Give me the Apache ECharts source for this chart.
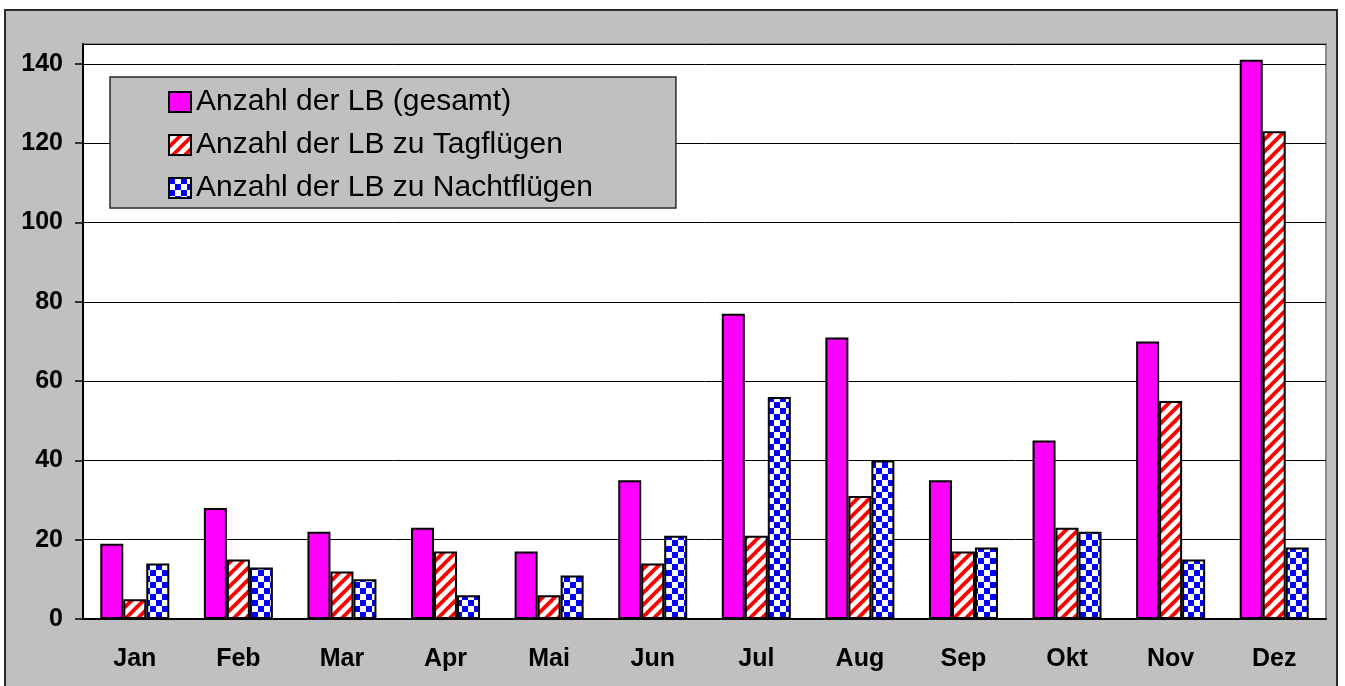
<!DOCTYPE html>
<html>
<head>
<meta charset="utf-8">
<script src="https://cdn.jsdelivr.net/npm/echarts@6/dist/echarts.min.js"></script>
<style>
html,body{margin:0;padding:0;background:#fff;}
#chart{width:1345px;height:686px;}
</style>
</head>
<body>
<div id="chart"></div>
<script>
const categories = ['Jan','Feb','Mar','Apr','Mai','Jun','Jul','Aug','Sep','Okt','Nov','Dez'];
const seriesNames = ['Anzahl der LB (gesamt)','Anzahl der LB zu Tagflügen','Anzahl der LB zu Nachtflügen'];
const gesamt = [19,28,22,23,17,35,77,71,35,45,70,141];
const tag = [5,15,12,17,6,14,21,31,17,23,55,123];
const nacht = [14,13,10,6,11,21,56,40,18,22,15,18];
const yMin = 0, yMax = 145, yStep = 20;

function stripePattern(){
  const s = 12;
  const c = document.createElement('canvas');
  c.width = s; c.height = s;
  const g = c.getContext('2d');
  g.fillStyle = '#ffffff'; g.fillRect(0,0,s,s);
  g.strokeStyle = '#ff0000'; g.lineWidth = 3.8;
  for (let k=-1;k<=1;k++){
    g.beginPath();
    g.moveTo(k*s - 2, s + 2);
    g.lineTo(k*s + s + 2, -2);
    g.stroke();
  }
  return c;
}
function checkerPattern(){
  const s = 12, h = 6;
  const c = document.createElement('canvas');
  c.width = s; c.height = s;
  const g = c.getContext('2d');
  g.fillStyle = '#ffffff'; g.fillRect(0,0,s,s);
  g.fillStyle = '#0000ff';
  g.fillRect(0,0,h,h); g.fillRect(h,h,h,h);
  return c;
}

const chart = echarts.init(document.getElementById('chart'), null, {renderer:'canvas'});
const font = '"Liberation Sans", Arial, sans-serif';
const barBase = {type:'bar', barWidth:23, barGap:'0%'};

chart.setOption({
  backgroundColor:'#ffffff',
  animation:false,
  graphic:[{
    type:'rect', z:-10, silent:true,
    shape:{x:5, y:10, width:1332, height:690},
    style:{fill:'#c0c0c0', stroke:'#2a2a2a', lineWidth:2}
  }],
  grid:{left:83, top:44, right:19, bottom:67, show:true, backgroundColor:'#ffffff', borderColor:'#8a8a8a', borderWidth:2},
  legend:{
    orient:'vertical', left:110, top:77,
    backgroundColor:'#c0c0c0', borderColor:'#2a2a2a', borderWidth:1.5,
    padding:[10,83,5,58],
    itemWidth:22, itemHeight:20, itemGap:13,
    icon:'rect',
    itemStyle:{borderColor:'#000', borderWidth:2},
    textStyle:{fontFamily:font, fontSize:30, color:'#000', lineHeight:30},
    data:seriesNames
  },
  xAxis:{
    type:'category', data:categories,
    axisLine:{lineStyle:{color:'#000', width:2}},
    axisTick:{show:false},
    axisLabel:{fontFamily:font, fontSize:25, fontWeight:'bold', color:'#000', margin:28}
  },
  yAxis:{
    type:'value', min:yMin, max:yMax, interval:yStep,
    axisLine:{show:true, lineStyle:{color:'#000', width:2}},
    axisTick:{show:true, length:8, lineStyle:{color:'#000', width:1.5}},
    axisLabel:{fontFamily:font, fontSize:25, fontWeight:'bold', color:'#000', margin:20, showMaxLabel:false},
    splitLine:{show:true, lineStyle:{color:'#000', width:1}}
  },
  series:[
    Object.assign({}, barBase, {name:seriesNames[0], data:gesamt, itemStyle:{color:'#ff00ff', borderColor:'#000', borderWidth:2}}),
    Object.assign({}, barBase, {name:seriesNames[1], data:tag, itemStyle:{color:{image:stripePattern(), repeat:'repeat'}, borderColor:'#000', borderWidth:2}}),
    Object.assign({}, barBase, {name:seriesNames[2], data:nacht, itemStyle:{color:{image:checkerPattern(), repeat:'repeat'}, borderColor:'#000', borderWidth:2}})
  ]
});
</script>
</body>
</html>
